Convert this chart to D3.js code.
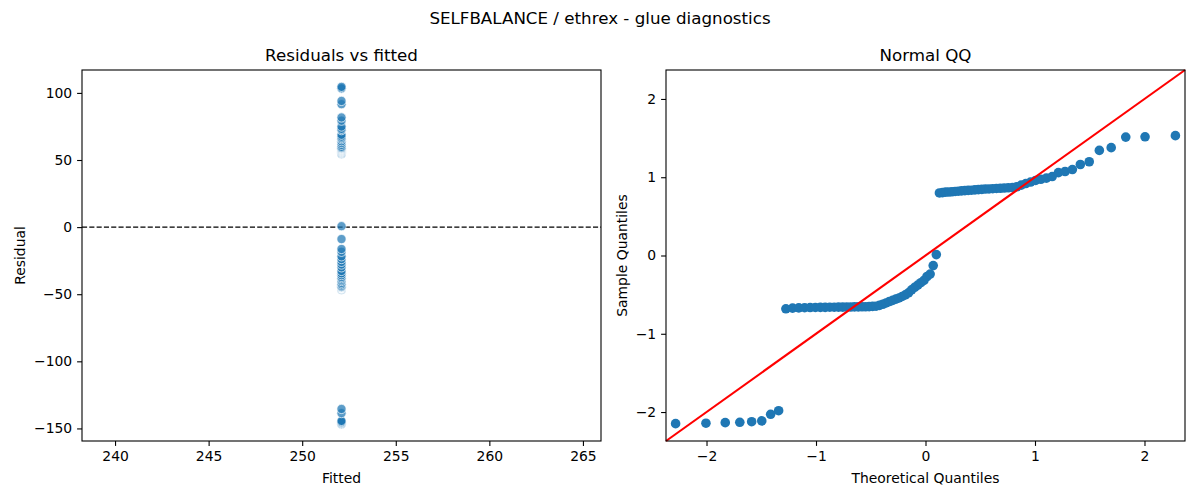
<!DOCTYPE html>
<html>
<head>
<meta charset="utf-8">
<script src="https://cdn.jsdelivr.net/npm/d3@7"></script>
<style>
  html, body { margin: 0; padding: 0; background: #fff; }
  svg { display: block; font-family: "DejaVu Sans", sans-serif; }
</style>
</head>
<body>
<svg id="chart" width="1200" height="500"></svg>
<script>
// ---------------- data ----------------
const suptitle = "SELFBALANCE / ethrex - glue diagnostics";
const leftTitle = "Residuals vs fitted";
const rightTitle = "Normal QQ";
const fittedValue = 252.1;   // constant fitted value (intercept-only model)
const residuals = [
  -146.8, -146.4, -145.9, -145.6, -145.1, -144.4, -138.6, -135.5,
  -46.6, -46.0, -45.8, -45.6, -45.5, -45.4,
  -45.3, -45.3, -45.2, -45.2, -45.1, -45.1, -45.0, -45.0, -44.9, -44.9, -44.8, -44.8,
  -44.7, -44.5, -44.3, -43.6, -42.6, -41.5, -40.2, -39.2, -38.1, -37.1, -35.8, -34.4,
  -32.7, -30.0, -27.9, -25.9, -23.8, -21.8, -18.4, -16.3, -8.9, 0.7,
  54.5, 54.8, 55.2, 55.3, 55.5, 55.8, 56.0, 56.3, 56.5, 56.7, 56.9, 57.2, 57.4, 57.6,
  57.9, 58.0, 58.2, 58.4, 58.6, 58.8, 59.0, 59.2, 59.9, 61.3, 62.7, 64.0, 65.4, 66.4,
  67.4, 68.8, 72.2, 73.2, 74.9, 79.3, 81.7, 91.6, 94.0, 103.2, 103.5, 104.5
];
const leftXTicks = [240, 245, 250, 255, 260, 265];
const leftYTicks = [-150, -100, -50, 0, 50, 100];
const qqTicks = [-2, -1, 0, 1, 2];
const qqLimits = [-2.37, 2.37];

// ---------------- helpers ----------------
// inverse standard normal CDF (Acklam)
function normPPF(p) {
  const a = [-3.969683028665376e+01, 2.209460984245205e+02, -2.759285104469687e+02, 1.383577518672690e+02, -3.066479806614716e+01, 2.506628277459239e+00];
  const b = [-5.447609879822406e+01, 1.615858368580409e+02, -1.556989798598866e+02, 6.680131188771972e+01, -1.328068155288572e+01];
  const c = [-7.784894002430293e-03, -3.223964580411365e-01, -2.400758277161838e+00, -2.549732539343734e+00, 4.374664141464968e+00, 2.938163982698783e+00];
  const d = [7.784695709041462e-03, 3.224671290700398e-01, 2.445134137142996e+00, 3.754408661907416e+00];
  const pl = 0.02425, ph = 1 - pl;
  let q, r;
  if (p < pl) {
    q = Math.sqrt(-2 * Math.log(p));
    return (((((c[0]*q+c[1])*q+c[2])*q+c[3])*q+c[4])*q+c[5]) / ((((d[0]*q+d[1])*q+d[2])*q+d[3])*q+1);
  } else if (p <= ph) {
    q = p - 0.5; r = q*q;
    return (((((a[0]*r+a[1])*r+a[2])*r+a[3])*r+a[4])*r+a[5])*q / (((((b[0]*r+b[1])*r+b[2])*r+b[3])*r+b[4])*r+1);
  } else {
    q = Math.sqrt(-2 * Math.log(1 - p));
    return -(((((c[0]*q+c[1])*q+c[2])*q+c[3])*q+c[4])*q+c[5]) / ((((d[0]*q+d[1])*q+d[2])*q+d[3])*q+1);
  }
}

const svg = d3.select("#chart");
const fmt = d3.format("");
const tickFont = "13.9px";

svg.append("text").attr("x", 600).attr("y", 24).attr("text-anchor", "middle")
  .attr("font-size", "16.7px").attr("fill", "#000").text(suptitle);

function drawFrame(g, w, h) {
  g.append("rect").attr("x", 0).attr("y", 0).attr("width", w).attr("height", h)
    .attr("fill", "none").attr("stroke", "#000").attr("stroke-width", 1.1);
}
function styleAxis(sel) {
  sel.select(".domain").remove();
  sel.selectAll(".tick line").attr("stroke", "#000").attr("stroke-width", 1.1);
  sel.selectAll(".tick text").attr("font-size", tickFont).attr("fill", "#000")
    .attr("font-family", "DejaVu Sans, sans-serif");
}

// ---------------- left panel ----------------
{
  const L = { x: 82, y: 70, w: 519, h: 371 };
  const g = svg.append("g").attr("transform", `translate(${L.x},${L.y})`);
  // matplotlib-like singular x expansion + 5% margins
  const xlo = fittedValue - 0.05 * fittedValue, xhi = fittedValue + 0.05 * fittedValue;
  const xm = (xhi - xlo) * 0.05;
  const x = d3.scaleLinear().domain([xlo - xm, xhi + xm]).range([0, L.w]);
  const [rmin, rmax] = d3.extent(residuals);
  const ym = (rmax - rmin) * 0.05;
  const y = d3.scaleLinear().domain([rmin - ym, rmax + ym]).range([L.h, 0]);

  g.append("g").attr("transform", `translate(0,${L.h})`)
    .call(d3.axisBottom(x).tickValues(leftXTicks).tickSize(4.9).tickPadding(4.9).tickFormat(fmt))
    .call(styleAxis);
  g.append("g")
    .call(d3.axisLeft(y).tickValues(leftYTicks).tickSize(4.9).tickPadding(4.9).tickFormat(fmt))
    .call(styleAxis);

  g.append("line").attr("x1", 0).attr("x2", L.w).attr("y1", y(0)).attr("y2", y(0))
    .attr("stroke", "#000").attr("stroke-width", 1.4).attr("stroke-dasharray", "5.1,2.2");

  g.append("g").selectAll("circle").data(residuals).join("circle")
    .attr("cx", x(fittedValue)).attr("cy", d => y(d)).attr("r", 4.6)
    .attr("fill", "#1f77b4").attr("fill-opacity", 0.72)
    .attr("stroke", "#fff").attr("stroke-width", 0.7);

  drawFrame(g, L.w, L.h);
  g.append("text").attr("x", L.w / 2).attr("y", -9).attr("text-anchor", "middle")
    .attr("font-size", "16.7px").text(leftTitle);
  g.append("text").attr("x", L.w / 2).attr("y", L.h + 42).attr("text-anchor", "middle")
    .attr("font-size", tickFont).text("Fitted");
  g.append("text").attr("transform", `translate(${-57},${L.h / 2}) rotate(-90)`)
    .attr("text-anchor", "middle").attr("font-size", tickFont).text("Residual");
}

// ---------------- right panel ----------------
{
  const R = { x: 666, y: 70, w: 519, h: 371 };
  const g = svg.append("g").attr("transform", `translate(${R.x},${R.y})`);
  const n = residuals.length;
  const mean = d3.mean(residuals);
  const sd = Math.sqrt(d3.mean(residuals, r => (r - mean) * (r - mean)));  // population std
  const sample = residuals.map(r => (r - mean) / sd).sort(d3.ascending);
  const pts = sample.map((s, i) => ({ t: normPPF((i + 1) / (n + 1)), s }));

  const x = d3.scaleLinear().domain(qqLimits).range([0, R.w]);
  const y = d3.scaleLinear().domain(qqLimits).range([R.h, 0]);

  g.append("g").attr("transform", `translate(0,${R.h})`)
    .call(d3.axisBottom(x).tickValues(qqTicks).tickSize(4.9).tickPadding(4.9).tickFormat(fmt))
    .call(styleAxis);
  g.append("g")
    .call(d3.axisLeft(y).tickValues(qqTicks).tickSize(4.9).tickPadding(4.9).tickFormat(fmt))
    .call(styleAxis);

  g.append("g").selectAll("circle").data(pts).join("circle")
    .attr("cx", d => x(d.t)).attr("cy", d => y(d.s)).attr("r", 4.8)
    .attr("fill", "#1f77b4");

  g.append("line").attr("x1", x(qqLimits[0])).attr("y1", y(qqLimits[0]))
    .attr("x2", x(qqLimits[1])).attr("y2", y(qqLimits[1]))
    .attr("stroke", "#ff0000").attr("stroke-width", 2.1);

  drawFrame(g, R.w, R.h);
  g.append("text").attr("x", R.w / 2).attr("y", -9).attr("text-anchor", "middle")
    .attr("font-size", "16.7px").text(rightTitle);
  g.append("text").attr("x", R.w / 2).attr("y", R.h + 42).attr("text-anchor", "middle")
    .attr("font-size", tickFont).text("Theoretical Quantiles");
  g.append("text").attr("transform", `translate(${-39},${R.h / 2}) rotate(-90)`)
    .attr("text-anchor", "middle").attr("font-size", tickFont).text("Sample Quantiles");
}
</script>
</body>
</html>
